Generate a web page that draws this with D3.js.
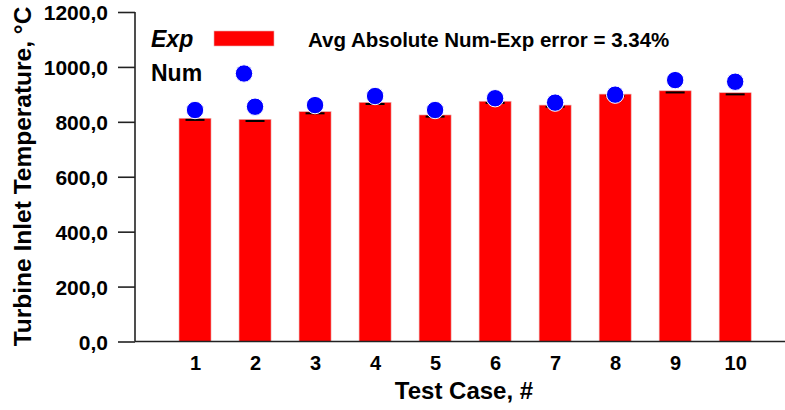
<!DOCTYPE html>
<html>
<head>
<meta charset="utf-8">
<script src="https://cdn.jsdelivr.net/npm/d3@7"></script>
<style>
  body { margin: 0; background: #fff; }
  svg { display: block; }
  text { font-family: "Liberation Sans", Arial, sans-serif; font-weight: bold; fill: #000; }
</style>
</head>
<body>
<svg id="chart" width="785" height="410"></svg>
<script>
// Turbine inlet temperature per test case: measured (Exp) vs. simulated (Num)
const testCases = [1, 2, 3, 4, 5, 6, 7, 8, 9, 10];
const expValues = [813, 809, 837, 871, 825, 875, 861, 901, 913, 906];
const expErrors = [6, 6, 6, 6, 6, 6, 6, 6, 6, 6];
const numValues = [843, 855, 861, 894, 843, 886, 870, 899, 952, 946];
const yTicks = [0, 200, 400, 600, 800, 1000, 1200];
const seriesNames = ["Exp", "Num"];
const avgErrorLabel = "Avg Absolute Num-Exp error = 3.34%";

const rows = testCases.map((c, i) => ({ c, exp: expValues[i], err: expErrors[i], num: numValues[i] }));

const svg = d3.select("#chart");
const W = 785, H = 410;
const margin = { left: 135, right: 0, top: 12, bottom: 68.5 };

const x = d3.scaleLinear().domain([0, 10.83]).range([margin.left, W - margin.right]);
const y = d3.scaleLinear().domain([0, 1200]).range([H - margin.bottom, margin.top]);

const barW = 32, capW = 19;
const red = "#ff0000", blue = "#0000ff";

// Bars (Exp)
svg.append("g").selectAll("rect").data(rows).join("rect")
  .attr("x", d => x(d.c) - barW / 2)
  .attr("y", d => y(d.exp))
  .attr("width", barW)
  .attr("height", d => y(0) - y(d.exp))
  .attr("fill", red)
  .attr("stroke", "#e8b0b0")
  .attr("stroke-width", 0.6);

// Error caps
svg.append("g").selectAll("line").data(rows).join("line")
  .attr("x1", d => x(d.c) - capW / 2)
  .attr("x2", d => x(d.c) + capW / 2)
  .attr("y1", d => y(d.exp - d.err))
  .attr("y2", d => y(d.exp - d.err))
  .attr("stroke", "#000")
  .attr("stroke-width", 2);

// Points (Num)
svg.append("g").selectAll("circle").data(rows).join("circle")
  .attr("cx", d => x(d.c))
  .attr("cy", d => y(d.num))
  .attr("r", 8.7)
  .attr("fill", blue)
  .attr("stroke", "#fff")
  .attr("stroke-width", 1);

// Y axis
const yAxis = d3.axisLeft(y)
  .tickValues(yTicks)
  .tickSize(17)
  .tickPadding(10)
  .tickFormat(d => d3.format(".1f")(d).replace(".", ","));
const gy = svg.append("g").attr("transform", `translate(${margin.left},0)`).call(yAxis);
gy.select(".domain").attr("stroke", "#222").attr("stroke-width", 1.6).attr("d", `M0,${y(1200)}V${y(0)}`);
gy.selectAll(".tick line").attr("stroke", "#222").attr("stroke-width", 1.6);
gy.selectAll(".tick text").style("font-size", "21px").attr("dy", "0.36em");

// X axis
const xAxis = d3.axisBottom(x).tickValues(testCases).tickSize(0).tickPadding(14).tickFormat(d3.format("d"));
const gx = svg.append("g").attr("transform", `translate(0,${y(0)})`).call(xAxis);
gx.select(".domain").attr("stroke", "#222").attr("stroke-width", 1.6).attr("d", `M${margin.left},0H${W}`);
gx.selectAll(".tick text").style("font-size", "20px");

// Axis titles
svg.append("text")
  .attr("transform", `translate(31,${(5 + 348) / 2}) rotate(-90)`)
  .attr("text-anchor", "middle")
  .style("font-size", "24.5px")
  .text("Turbine Inlet Temperature, °C");

svg.append("text")
  .attr("x", 464).attr("y", 399)
  .attr("text-anchor", "middle")
  .style("font-size", "24px")
  .text("Test Case, #");

// Legend
svg.append("text").attr("x", 151).attr("y", 47).style("font-size", "23px").style("font-style", "italic").text(seriesNames[0]);
svg.append("rect").attr("x", 214).attr("y", 31).attr("width", 60).attr("height", 15).attr("fill", red)
  .attr("stroke", "#e8b0b0").attr("stroke-width", 0.6);
svg.append("text").attr("x", 151).attr("y", 81).style("font-size", "23px").text(seriesNames[1]);
svg.append("circle").attr("cx", 244).attr("cy", 73.5).attr("r", 8.7).attr("fill", blue).attr("stroke", "#fff").attr("stroke-width", 1);

svg.append("text").attr("x", 308).attr("y", 46.5).style("font-size", "20.5px").text(avgErrorLabel);
</script>
</body>
</html>
